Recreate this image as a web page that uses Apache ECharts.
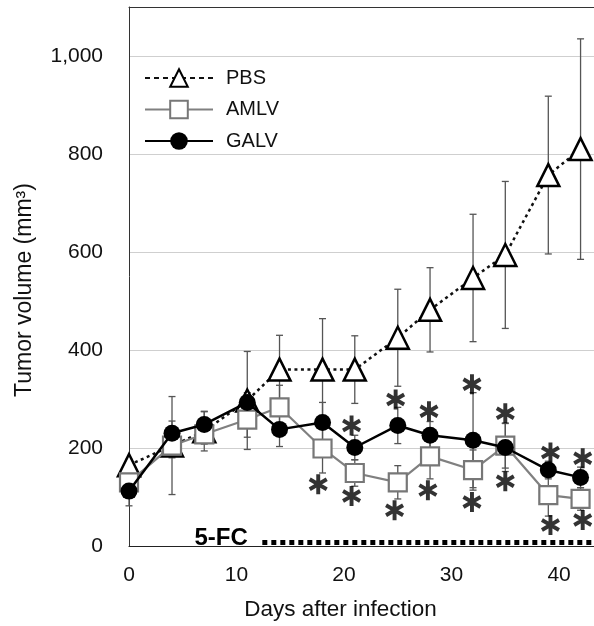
<!DOCTYPE html>
<html>
<head>
<meta charset="utf-8">
<script src="https://cdn.jsdelivr.net/npm/echarts@6/dist/echarts.min.js"></script>
<style>
  html, body { margin: 0; padding: 0; background: #fff; }
  #chart { width: 594px; height: 626px; }
</style>
</head>
<body>
<div id="chart"></div>
<script>
const days = [0, 4, 7, 11, 14, 18, 21, 25, 28, 32, 35, 39, 42]

const pbs = [165, 205, 234, 297, 360, 360, 360, 425, 482, 547, 594, 757, 810]
const pbsErr = [12, 100, 40, 100, 70, 104, 69, 99, 86, 130, 150, 161, 225]

const amlv = [130, 205, 228, 258, 283, 199, 149, 130, 183, 155, 205, 104, 96]
const amlvErr = [15, 25, 20, 36, 45, 50, 27, 34, 46, 41, 46, 43, 23]

const galv = [112, 230, 248, 293, 238, 252, 201, 246, 226, 216, 201, 155, 140]
const galvErr = [30, 25, 27, 20, 35, 41, 25, 37, 28, 97, 49, 18, 21]

// significance marks, [day, volume]
const starsAbove = [[20.7, 246], [24.8, 299], [27.9, 275], [31.9, 330], [35, 271], [39.2, 191], [42.2, 179]]
const starsBelow = [[17.6, 126], [20.7, 102], [24.7, 73], [27.8, 114], [31.9, 90], [35, 132], [39.2, 43], [42.2, 53]]

// 5-FC treatment period
const fcDays = [12.4, 43.25]
const fcLevel = 7

const yTicks = [0, 200, 400, 600, 800, 1000]
const xTicks = [0, 10, 20, 30, 40]
const xMax = 43.25

const font = "'Liberation Sans', Arial, sans-serif"
const starPath = 'path://M-2,10L2,10L2,-10L-2,-10Z' +
  'M7.66,6.73L9.66,3.27L-7.66,-6.73L-9.66,-3.27Z' +
  'M9.66,-3.27L7.66,-6.73L-9.66,3.27L-7.66,6.73Z'

const chart = echarts.init(document.getElementById('chart'))

function errorBars(values, errs, z) {
  return {
    type: 'custom',
    z: z,
    silent: true,
    data: days.map((d, i) => [d, values[i] - errs[i], values[i] + errs[i]]),
    renderItem(params, api) {
      const lo = api.coord([api.value(0), api.value(1)])
      const hi = api.coord([api.value(0), api.value(2)])
      const w = 3.5
      const style = { stroke: '#555', lineWidth: 1.3 }
      return {
        type: 'group',
        children: [
          { type: 'line', shape: { x1: lo[0], y1: lo[1], x2: hi[0], y2: hi[1] }, style },
          { type: 'line', shape: { x1: lo[0] - w, y1: lo[1], x2: lo[0] + w, y2: lo[1] }, style },
          { type: 'line', shape: { x1: hi[0] - w, y1: hi[1], x2: hi[0] + w, y2: hi[1] }, style }
        ]
      }
    }
  }
}

function stars(points) {
  return {
    type: 'scatter',
    z: 10,
    silent: true,
    symbol: starPath,
    symbolSize: [19, 20],
    itemStyle: { color: '#000' },
    data: points
  }
}

chart.setOption({
  animation: false,
  backgroundColor: '#fff',
  textStyle: { fontFamily: font },
  grid: { left: 129, top: 7, bottom: 77, right: 0 },
  legend: {
    orient: 'vertical',
    left: 139, top: 63,
    itemWidth: 68, itemHeight: 22, itemGap: 11.5,
    textStyle: { fontSize: 20, color: '#111', padding: [0, 0, 0, 8] },
    data: [
      { name: 'PBS', lineStyle: { type: [5, 4] } },
      { name: 'AMLV' },
      { name: 'GALV' }
    ]
  },
  xAxis: [
    {
      type: 'value',
      min: 0, max: xMax, interval: 10,
      name: 'Days after infection',
      nameLocation: 'middle',
      nameGap: 52,
      nameTextStyle: { fontSize: 22.5, color: '#111', padding: [0, 42, 0, 0] },
      axisLine: { lineStyle: { color: '#222', width: 1.2 } },
      axisTick: { show: false },
      axisLabel: {
        fontSize: 21, color: '#111', margin: 19, showMaxLabel: false,
        formatter: v => (xTicks.includes(v) ? String(v) : '')
      },
      splitLine: { show: false }
    },
    {
      // top edge of the plot box
      type: 'value',
      position: 'top',
      min: 0, max: xMax,
      axisLine: { show: true, lineStyle: { color: '#333', width: 1 } },
      axisTick: { show: false },
      axisLabel: { show: false },
      splitLine: { show: false }
    }
  ],
  yAxis: {
    type: 'value',
    min: 0, max: 1100, interval: 200,
    name: 'Tumor volume (mm³)',
    nameLocation: 'middle',
    nameGap: 93,
    nameTextStyle: { fontSize: 23, color: '#111', padding: [0, 27, 0, 0] },
    axisLine: { show: true, lineStyle: { color: '#333', width: 1 } },
    axisTick: { show: false },
    axisLabel: {
      fontSize: 21, color: '#111', margin: 26, showMaxLabel: false,
      formatter: v => (yTicks.includes(v) ? v.toLocaleString('en-US') : '')
    },
    splitLine: { lineStyle: { color: '#cfcfcf', width: 1 } }
  },
  series: [
    errorBars(pbs, pbsErr, 1),
    errorBars(amlv, amlvErr, 1),
    errorBars(galv, galvErr, 1),
    {
      name: 'PBS',
      type: 'line',
      z: 3,
      symbol: 'triangle',
      symbolSize: 22,
      data: days.map((d, i) => [d, pbs[i]]),
      lineStyle: { color: '#111', width: 2.5, type: [3, 3.5] },
      itemStyle: { color: '#fff', borderColor: '#000', borderWidth: 2.5 }
    },
    {
      name: 'AMLV',
      type: 'line',
      z: 4,
      symbol: 'rect',
      symbolSize: 18,
      data: days.map((d, i) => [d, amlv[i]]),
      lineStyle: { color: '#808080', width: 2.2 },
      itemStyle: { color: '#fff', borderColor: '#777', borderWidth: 2.2 }
    },
    {
      name: 'GALV',
      type: 'line',
      z: 5,
      symbol: 'circle',
      symbolSize: 17,
      data: days.map((d, i) => [d, galv[i]]),
      lineStyle: { color: '#000', width: 2.5 },
      itemStyle: { color: '#000' }
    },
    stars(starsAbove),
    stars(starsBelow),
    {
      type: 'line',
      z: 6,
      silent: true,
      symbol: 'circle',
      symbolSize: 1,
      showSymbol: true,
      itemStyle: { color: 'rgba(0,0,0,0)' },
      lineStyle: { color: '#000', width: 5, type: [5, 4] },
      data: [
        {
          value: [fcDays[0], fcLevel],
          label: {
            show: true, position: 'left', distance: 14, offset: [0, -4],
            formatter: '5-FC', fontSize: 24, fontWeight: 'bold', color: '#000'
          }
        },
        { value: [fcDays[1], fcLevel] }
      ]
    }
  ]
})
</script>
</body>
</html>
